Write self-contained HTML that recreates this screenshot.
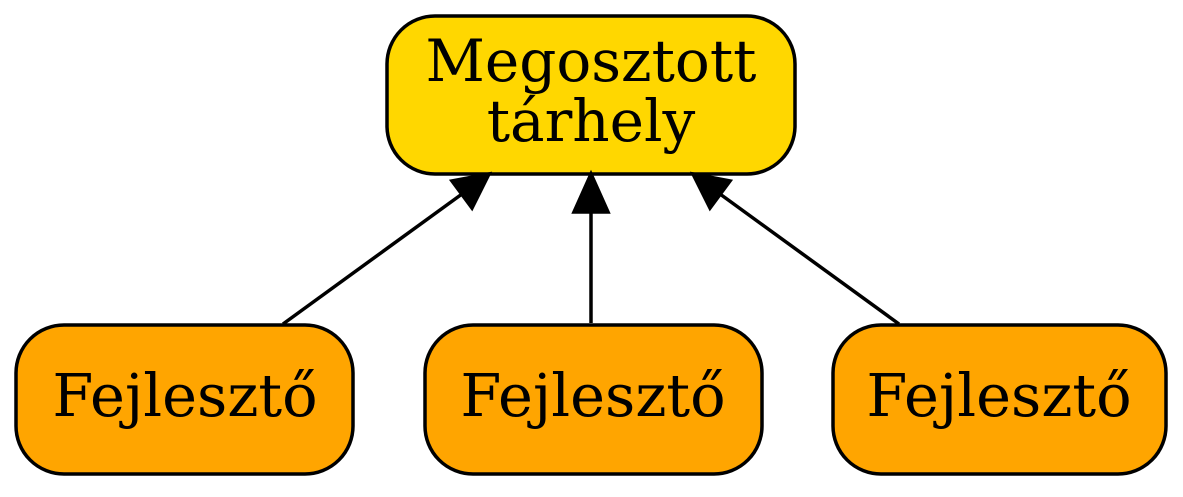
<!DOCTYPE html>
<html><head><meta charset="utf-8"><style>html,body{margin:0;padding:0;background:#fff}</style></head>
<body>
<svg width="1183" height="492" viewBox="0 0 1183 492" xmlns="http://www.w3.org/2000/svg" font-family="'DejaVu Serif','Liberation Serif',serif">
<rect x="387" y="16" width="408" height="158" rx="48" fill="#FFD700" stroke="#000" stroke-width="3.5"/>
<text x="591" y="81" font-size="58" text-anchor="middle">Megosztott</text>
<text x="591" y="141" font-size="58" text-anchor="middle">tárhely</text>
<g fill="#FFA500" stroke="#000" stroke-width="3.5">
<rect x="16" y="325" width="337" height="149" rx="48"/>
<rect x="425" y="325" width="337" height="149" rx="48"/>
<rect x="833" y="325" width="333" height="149" rx="48"/>
</g>
<g font-size="59" text-anchor="middle">
<text x="185" y="416">Fejlesztő</text>
<text x="593" y="416">Fejlesztő</text>
<text x="999" y="416">Fejlesztő</text>
</g>
<g stroke="#000" stroke-width="3.5">
<line x1="283" y1="324" x2="462" y2="194"/>
<line x1="591" y1="323" x2="591" y2="212"/>
<line x1="899" y1="324" x2="720" y2="194"/>
</g>
<g fill="#000" stroke="#000" stroke-width="3.5">
<polygon points="489,174 472,208 452,181"/>
<polygon points="591,174 608,212 574,212"/>
<polygon points="693,174 730,181 710,208"/>
</g>
</svg>
</body></html>
